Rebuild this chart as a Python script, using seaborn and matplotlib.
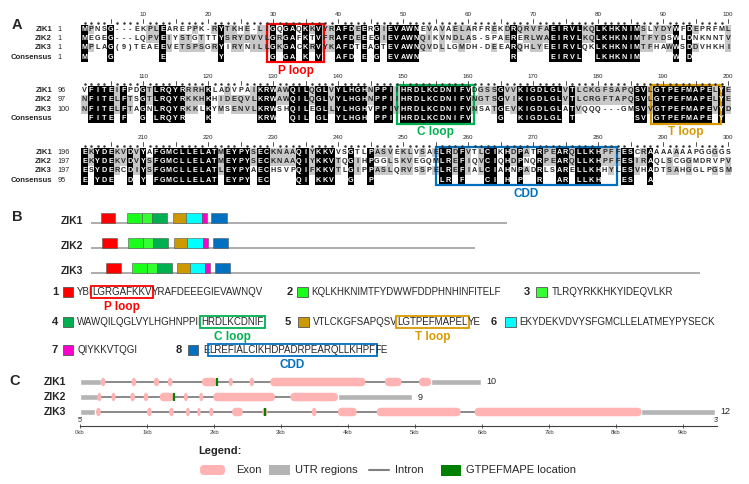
import numpy as np
import matplotlib
matplotlib.use('Agg')
import matplotlib.pyplot as plt
import seaborn as sns
from matplotlib.colors import ListedColormap
from matplotlib.patches import Rectangle, FancyBboxPatch, Ellipse

sns.set_theme(style='white')
plt.rcParams['font.family'] = ['Liberation Sans', 'DejaVu Sans']

# ---------------- A: alignment ----------------
names = ['ZIK1', 'ZIK2', 'ZIK3']
zik1_aln = ("MPNSG---EKPLEAREPPK-RYTKHE-LIGQGAQKKVYRAFDEERGIEVAWNEVAVAELARFREKDRQRVFAEIRVLKQLKHKNIMSLYDYWFDEPRFML"
            "VFITEIFPDGTLRQYRRRHKLADVPAIKRWAWQILQGLVYLHGHNPPIIHRDLKCDNIFVDGSSGVVKIGDLGLVTLCKGFSAPQSVLGTPEFMAPELYE"
            "EKYDEKVDVYAFGMCLLELATMEYPYSECKNAAQIYKKVVSGTLPASVEKLVSAELRDFVTLCIKHDPATRPEARQLLKHPFFESCRAAAAAAAPGGGGS")
zik2_aln = ("MEGEG---LQPVEIYSTGTTTYSRYDVVLGRGAFKTVFRAFDEEEGIEVAWNQIKVNDLAS-SPAERERLWAEIRVLKQLKHKNIMTFYDSWLDNKNNTV"
            "NFITELFTSGTLRQYRKKHKHIDEQVLKRWAWQILQGLVYLHGHNPPIIHRDLKCDNIFVNGTSGVIKIGDLGLVTLCRGFTAPQSVLGTPEFMAPELYE"
            "EKYDEKVDVYSFGMCLLELATMEYPYSECKNAAQIYKKVTQGIHPGGLSKVEGQMLREFIQVCIQHDPNQRPEARQLLKHPFFESIRAQLSCGGMDRVPV")
zik3_aln = ("MPLAG(9)TEAEEVETSPSGRYIRYNILLGKGACKRVYKAFDTEAGTEVAWNQVDLLGMDH-DEEARQHLYEEIRVLQKLKHKNIMTFHAWWSDDVHKHI"
            "NFITELFTAGNLRQYRKKLKYMSENVLKRWSHQILEGLLYLHGHVPPIVHRDLKCDNIFVNSATGEVKIGDLGLATVQQQ---GMSVVGTPEFMAPEVYD"
            "ESYDERCDIYSFGMCLLELATLEYPYAECHSVPQIFKKVTLGIPPASLQRVSSPELREFIALCIAHNPADRLSARELLKHHYLESVHADTSAHGGLPGSM")
row_start = {'ZIK1': ['1', '96', '196'], 'ZIK2': ['1', '97', '197'],
             'ZIK3': ['1', '100', '197'], 'Consensus': ['1', '', '95']}
sim_groups = ['ILVM', 'DE', 'KR', 'FYW', 'ST', 'NQ']
# loop boxes: (label, block, first column, last column, colour)
loops = [('P loop', 0, 30, 37, '#ff0000'), ('C loop', 1, 50, 60, '#00b050'),
         ('T loop', 1, 89, 98, '#d99a00'), ('CDD', 2, 56, 82, '#0070c0')]

# ---------------- B: motifs ----------------
motif_colors = ['#ff0000', '#1aff1a', '#33ff33', '#00b050', '#cc9900', '#00ffff', '#ff00cc', '#0070c0']
motif_len = [29, 30, 19, 30, 26, 30, 10, 30]
motif_start = {'ZIK1': [19, 70, 100, 119, 161, 187, 217, 236],
               'ZIK2': [21, 72, 102, 121, 163, 189, 219, 239],
               'ZIK3': [29, 80, 110, 129, 168, 194, 224, 243]}
protein_len = {'ZIK1': 815, 'ZIK2': 753, 'ZIK3': 1194}
motif_seq = [('YBI', 'LGRGAFKKV', 'YRAFDEEEGIEVAWNQV', 'P loop'),
             ('KQLKHKNIMTFYDWWFDDPHNHINFITELF', '', '', ''),
             ('TLRQYRKKHKYIDEQVLKR', '', '', ''),
             ('WAWQILQGLVYLHGHNPPII', 'HRDLKCDNIF', '', 'C loop'),
             ('VTLCKGFSAPQSV', 'LGTPEFMAPEL', 'YE', 'T loop'),
             ('EKYDEKVDVYSFGMCLLELATMEYPYSECK', '', '', ''),
             ('QIYKKVTQGI', '', '', ''),
             ('E', 'LREFIALCIKHDPADRPEARQLLKHPF', 'FE', 'CDD')]
loop_color = {'P loop': '#ff0000', 'C loop': '#00b050', 'T loop': '#d99a00', 'CDD': '#0070c0'}

# ---------------- C: gene structure (kb) ----------------
utr = {'ZIK1': [(0, 0.32), (5.24, 5.98)],
       'ZIK2': [(0, 0.27), (3.85, 4.96)],
       'ZIK3': [(0, 0.22), (8.38, 9.48)]}
exons = {'ZIK1': [(0.31, 0.38), (0.77, 0.84), (1.10, 1.18), (1.31, 1.38), (1.82, 2.04), (2.22, 2.28),
                  (2.53, 2.60), (2.84, 4.26), (4.55, 4.80), (5.06, 5.24)],
         'ZIK2': [(0.26, 0.32), (0.47, 0.53), (0.75, 0.82), (0.95, 1.02), (1.19, 1.40), (1.55, 1.61),
                  (1.78, 1.84), (1.99, 2.91), (3.14, 3.85)],
         'ZIK3': [(0.24, 0.31), (1.00, 1.07), (1.33, 1.40), (1.58, 1.64), (1.75, 1.80), (1.93, 1.99),
                  (2.27, 2.43), (2.72, 2.80), (3.46, 3.53), (3.85, 4.13), (4.43, 5.68), (5.89, 8.38)]}
motif_site = {'ZIK1': 2.05, 'ZIK2': 1.41, 'ZIK3': 2.76}
kb_ticks = list(range(10))

W, H = 749, 484


def rect(x, y, w, h):
    return [x / W, 1 - (y + h) / H, w / W, h / H]


fig = plt.figure(figsize=(W / 100, H / 100), dpi=100)
canvas = fig.add_axes([0, 0, 1, 1])
canvas.set_xlim(0, W)
canvas.set_ylim(H, 0)
canvas.axis('off')

for lab, (x, y) in zip('ABC', [(17, 25), (17, 217), (15, 381)]):
    canvas.text(x, y, lab, fontsize=10.5, weight='bold', ha='center', va='center')

# ---- alignment shading
seqs = [zik1_aln, zik2_aln, zik3_aln]


def grp(c):
    for g in sim_groups:
        if c in g:
            return g
    return c


n = len(zik1_aln)
codes = np.zeros((4, n))
letters = np.empty((4, n), dtype=object)
for j in range(n):
    col = [s[j] for s in seqs]
    same = col[0] == col[1] == col[2] and col[0].isalpha()
    for i, c in enumerate(col):
        letters[i, j] = c
        if not c.isalpha():
            continue
        if same:
            codes[i, j] = 2
        elif any(grp(c) == grp(col[k]) for k in range(3) if k != i and col[k].isalpha()):
            codes[i, j] = 1
    letters[3, j] = col[0] if same else ''
    codes[3, j] = 2 if same else 0

cmap = ListedColormap(['white', '#c8c8c8', 'black'])
col_w, row_h = 6.5, 9.3
for b in range(3):
    top = 24.5 + 61.5 * b
    ax = fig.add_axes(rect(81.25, top, 100 * col_w, 4 * row_h))
    sl = slice(b * 100, (b + 1) * 100)
    sns.heatmap(codes[:, sl], annot=letters[:, sl], fmt='', cmap=cmap, vmin=0, vmax=2,
                cbar=False, xticklabels=False, yticklabels=False, linewidths=0,
                annot_kws=dict(size=5.2, weight='bold'), ax=ax)
    # ruler
    for k in range(100):
        pos = b * 100 + k + 1
        if pos % 5 == 0:
            ax.plot([k + 0.5, k + 0.5], [-0.12, -0.55], color='#333333', lw=0.6, clip_on=False)
        else:
            ax.plot(k + 0.5, -0.2, marker='o', ms=0.8, color='#333333', clip_on=False)
        if pos % 10 == 0:
            ax.text(k + 0.5, -1.05, str(pos), fontsize=4.5, ha='center', va='center', clip_on=False)
    for i, nm in enumerate(names + ['Consensus']):
        ax.text(-4.5, i + 0.5, nm, fontsize=5.6, weight='bold', ha='right', va='center')
        ax.text(-3.6, i + 0.5, row_start[nm][b], fontsize=5.2, ha='left', va='center')
    for lab, lb, c0, c1, colr in loops:
        if lb != b:
            continue
        ax.add_patch(Rectangle((c0 - 1 - 0.35, -0.08), c1 - c0 + 1.7, 4.16, fill=False,
                               ec=colr, lw=1.6, clip_on=False))
        ax.text((c0 + c1 - 1) / 2, 4.95, lab, color=colr, fontsize=8.5, weight='bold',
                ha='center', va='center', clip_on=False)

# ---- B: motif diagram
px_per_aa = 0.51
axb = fig.add_axes(rect(91, 205, 649, 75))
axb.set_xlim(0, 649 / px_per_aa)
axb.set_ylim(280, 205)
axb.axis('off')
bases = [223.3, 248.3, 273.3]
for nm, base in zip(names, bases):
    axb.hlines(base, 0, protein_len[nm], color='#a6a6a6', lw=1.3, zorder=1)
    axb.broken_barh(list(zip(motif_start[nm], motif_len)), (base - 10.7, 10.7),
                    facecolors=motif_colors, edgecolor='#555555', lw=0.4, zorder=2)
    canvas.text(83, base - 2.5, nm, fontsize=7.5, weight='bold', ha='right', va='center')

# ---- B: motif sequences
layout = [(292, 55, 62.5, 77), (292, 290, 297, 311.5), (292, 527, 536, 552),
          (322, 55, 62.5, 77), (322, 287.5, 298, 312.5), (322, 494, 505, 519),
          (350, 55, 62.5, 77), (350, 179, 187.5, 203)]
for m, ((pre, boxed, post, lab), (y, xn, xs, xt)) in enumerate(zip(motif_seq, layout)):
    canvas.text(xn, y, str(m + 1), fontsize=8, weight='bold', ha='center', va='center')
    canvas.add_patch(Rectangle((xs, y - 5.3), 10.5, 10.5, fc=motif_colors[m], ec='#555555', lw=0.6))
    t = canvas.text(xt, y, pre, fontsize=7, ha='left', va='center')
    if boxed:
        bc = loop_color[lab]
        bt = canvas.annotate(boxed, xy=(1, 0), xycoords=t, ha='left', va='bottom', fontsize=7,
                             bbox=dict(boxstyle='square,pad=0.12', fc='none', ec=bc, lw=1.3))
        if post:
            canvas.annotate(post, xy=(1, 0), xycoords=bt, ha='left', va='bottom', fontsize=7)
        canvas.annotate(lab, xy=(0.5, 0), xycoords=bt, xytext=(0, -3), textcoords='offset points',
                        ha='center', va='top', color=bc, fontsize=8.5, weight='bold')

# ---- C: gene structures
px_per_kb = 67
axc = fig.add_axes(rect(60, 372, 685, 68))
axc.set_xlim((60 - 80) / px_per_kb, (745 - 80) / px_per_kb)
axc.set_ylim(440, 372)
axc.set_facecolor('none')
rows = [382, 397, 412]
for nm, y in zip(names, rows):
    axc.hlines(y, utr[nm][0][1], utr[nm][1][0], color='#808080', lw=1.3, zorder=1)
    axc.broken_barh([(s, e - s) for s, e in utr[nm]], (y - 3.3, 6.6), facecolors='#b4b4b4', zorder=2)
    for s, e in exons[nm]:
        if (e - s) * px_per_kb < 9:
            axc.add_patch(Ellipse(((s + e) / 2, y), e - s, 8.5, fc='#ffb3b3', ec='none', zorder=3))
        else:
            axc.add_patch(FancyBboxPatch((s, y - 4.25), e - s, 8.5,
                                         boxstyle='round,pad=0,rounding_size=%f' % (4.2 / px_per_kb),
                                         mutation_aspect=px_per_kb, fc='#ffb3b3', ec='none', zorder=3))
    axc.vlines(motif_site[nm], y - 4.3, y + 4.3, color='#008000', lw=1.6, zorder=4)
    axc.text(utr[nm][1][1] + 0.08, y, str(len(exons[nm])), fontsize=6.5, ha='left', va='center')
    canvas.text(66, y, nm, fontsize=7.5, weight='bold', ha='right', va='center')

for sp in ['top', 'left', 'right']:
    axc.spines[sp].set_visible(False)
axc.spines['bottom'].set_position(('data', 426))
axc.spines['bottom'].set_bounds(0, 9.5)
axc.spines['bottom'].set_color('#404040')
axc.spines['bottom'].set_linewidth(0.8)
axc.set_xticks(kb_ticks)
axc.set_xticklabels([f'{k}kb' for k in kb_ticks], fontsize=4.3)
axc.tick_params(axis='x', direction='inout', length=3.5, width=0.6, pad=1, colors='#404040',
                bottom=True)
axc.set_yticks([])
axc.text(0, 421, "5'", fontsize=5, ha='center', va='center')
axc.text(9.5, 421, "3'", fontsize=5, ha='center', va='center')

# ---- C legend
canvas.text(198, 451, 'Legend:', fontsize=8, weight='bold', ha='left', va='center')
canvas.add_patch(FancyBboxPatch((200, 465), 25, 10, boxstyle='round,pad=0,rounding_size=4',
                                fc='#ffb3b3', ec='none'))
canvas.text(236, 470, 'Exon', fontsize=8, ha='left', va='center')
canvas.add_patch(Rectangle((269, 465), 21, 10, fc='#b4b4b4', ec='none'))
canvas.text(295, 470, 'UTR regions', fontsize=8, ha='left', va='center')
canvas.plot([369, 389], [470, 470], color='#808080', lw=1.5)
canvas.text(395, 470, 'Intron', fontsize=8, ha='left', va='center')
canvas.add_patch(Rectangle((441, 464.5), 20, 11, fc='#008000', ec='none'))
canvas.text(466, 470, 'GTPEFMAPE location', fontsize=8, ha='left', va='center')

fig.savefig('out.png', dpi=100)
